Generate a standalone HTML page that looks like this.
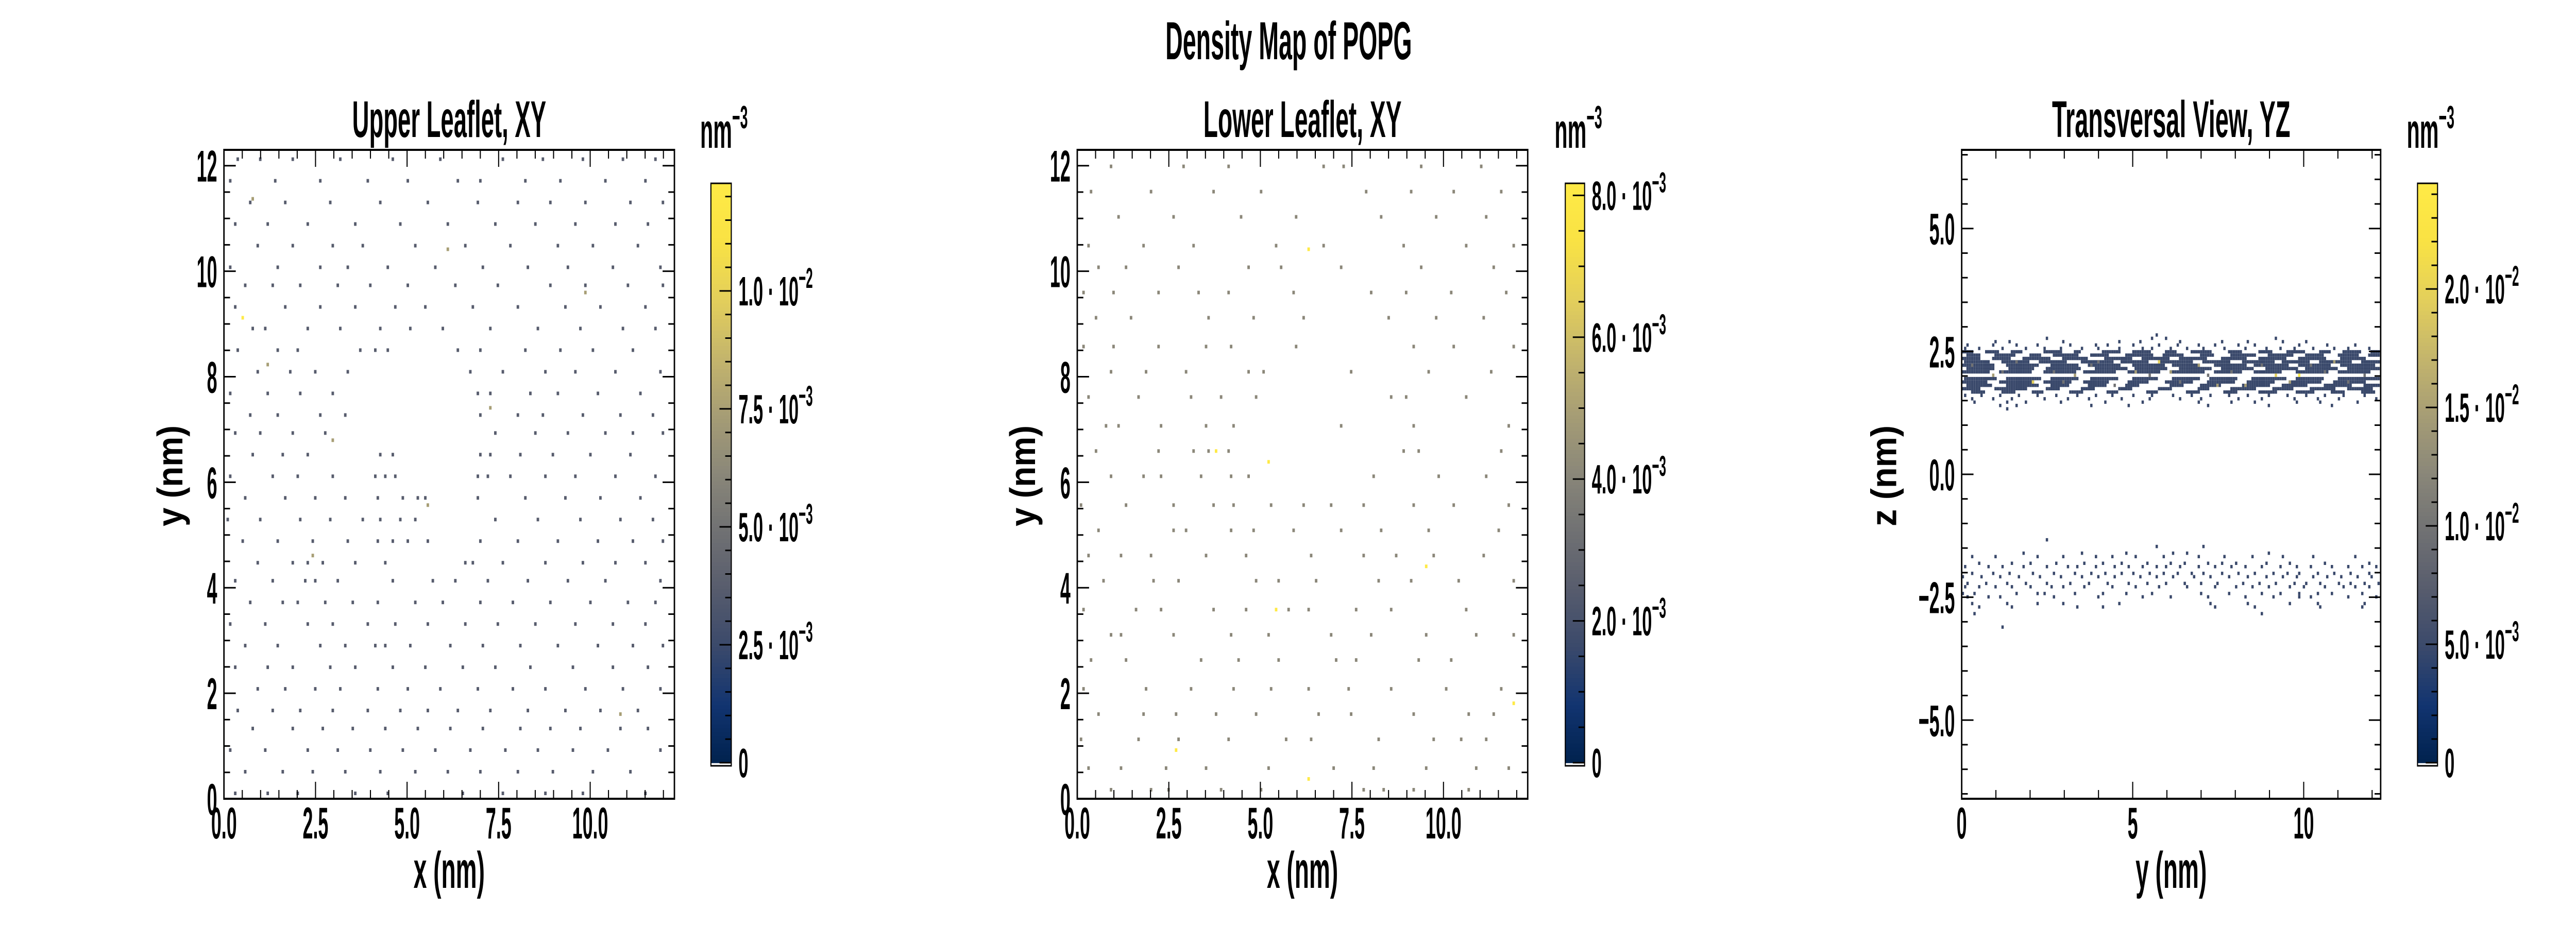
<!DOCTYPE html>
<html><head><meta charset="utf-8"><title>Density Map of POPG</title>
<style>html,body{margin:0;padding:0;background:#fff;width:100%;height:100%;overflow:hidden}svg{display:block;width:100vw;height:100vh}text{font-family:"Liberation Sans",sans-serif;font-weight:bold;fill:#000}</style>
</head><body>
<svg id="fig" xmlns="http://www.w3.org/2000/svg" viewBox="0 0 7200 1800" preserveAspectRatio="none"></svg>
<script>
// ---------------- data ----------------
const upperRowY = [12.1,11.7,11.3,10.9,10.5,10.1,9.7,9.3,8.9,8.5,8.1,7.7,7.3,6.9,6.5,6.1,5.7,5.3,4.9,4.5,4.1,3.7,3.3,2.9,2.5,2.1,1.7,1.3,0.9,0.5,0.1];
const upperRowX = [
[0.4,1.0,1.9,3.2,4.6,5.9,7.6,8.7,9.8,10.9,11.8],
[0.2,1.4,2.6,3.9,5.0,6.4,7.0,8.2,9.2,10.4,11.5],
[0.7,1.7,2.9,4.3,5.6,6.9,8.0,8.9,9.9,11.1,12.0],
[0.3,1.2,2.3,3.6,4.8,6.1,7.4,8.5,9.6,10.7,11.6],
[0.9,1.9,3.0,3.8,5.2,6.6,7.8,9.1,10.1,11.3],
[0.2,1.5,2.6,3.4,4.5,5.8,7.1,8.3,9.4,10.6,11.9],
[0.6,1.3,2.1,3.1,4.0,5.0,6.3,7.5,8.9,9.9,11.0,12.0],
[0.3,1.7,2.6,3.6,4.7,5.5,6.8,8.0,9.3,10.3,11.5],
[0.8,1.1,2.3,3.2,4.3,5.1,6.0,7.3,8.6,9.7,10.9,11.8],
[0.4,1.5,2.0,3.7,4.1,4.5,6.4,7.0,8.2,9.2,10.1,11.2],
[0.9,1.8,2.5,3.4,6.7,7.6,8.8,9.6,10.7,11.9],
[0.2,1.2,2.1,3.0,6.9,7.3,8.4,9.1,10.2,11.4],
[0.7,1.5,2.6,3.3,7.0,8.0,8.7,9.8,10.8,11.7],
[0.3,1.0,1.9,2.8,7.4,8.5,9.4,10.4,11.2,12.0],
[0.8,1.6,2.3,4.3,4.6,7.0,7.3,8.1,9.0,10.0,11.1],
[0.2,1.3,2.0,3.0,4.1,4.4,4.7,6.9,7.2,7.8,8.8,9.6,10.7,11.8],
[0.6,1.7,2.5,3.3,4.2,4.9,5.3,5.5,6.9,8.2,9.3,10.3,11.4],
[0.1,1.0,2.1,2.9,3.8,4.3,4.8,5.2,7.4,8.6,9.7,10.8,11.7],
[0.5,1.5,2.4,3.4,4.2,4.6,5.0,5.6,7.0,8.0,9.1,10.2,11.2,12.0],
[0.9,1.9,2.3,2.7,3.6,4.4,6.6,6.8,7.6,8.8,9.8,10.7,11.5],
[0.3,1.3,2.2,2.5,3.1,4.6,5.7,6.3,7.2,8.3,9.4,10.4,11.9],
[0.7,1.6,2.0,2.8,3.5,4.2,5.2,6.0,7.0,7.9,8.9,10.0,11.0,11.8],
[0.2,1.1,2.3,3.0,3.9,4.7,5.6,6.6,7.5,8.5,9.6,10.6,11.5],
[0.6,1.5,2.6,3.3,4.1,4.4,5.1,6.2,7.1,8.1,9.1,10.2,11.2,12.0],
[0.3,1.2,1.9,2.9,3.6,4.6,5.5,6.5,7.4,8.4,9.5,10.6,11.6],
[0.9,1.7,2.5,3.2,4.2,5.0,5.9,6.9,7.9,8.8,9.9,10.9,11.9],
[0.4,1.3,2.1,3.0,3.9,4.8,5.6,6.4,7.3,8.3,9.3,10.3,11.3],
[0.8,1.9,2.7,3.5,4.4,5.3,6.2,7.1,8.1,8.9,9.7,10.8,11.6],
[0.2,1.1,2.3,3.1,4.0,4.9,5.8,6.7,7.7,8.6,9.5,10.5,11.9],
[0.6,1.6,2.4,3.3,4.3,5.2,6.1,7.0,8.0,9.0,10.1,11.1],
[0.3,1.2,2.0,3.6,4.5,6.5,7.6,8.8,9.8,11.5]];
const upperUnit = 0.00368;
const upperHiX = [0.5,3.0,1.2,5.6,7.3,9.9,2.4,10.8,0.8,6.1];
const upperHiY = [9.1,6.8,8.2,5.6,7.4,9.6,4.6,1.6,11.4,10.4];
const upperHiV = [0.0123,0.0074,0.0074,0.0074,0.0074,0.0074,0.0074,0.0074,0.0074,0.0074];

const lowerRowY = [12.0,11.5,11.0,10.5,10.1,9.6,9.1,8.6,8.1,7.6,7.1,6.6,6.1,5.6,5.1,4.6,4.1,3.6,3.1,2.6,2.1,1.6,1.1,0.6,0.2];
const lowerRowX = [
[0.9,2.9,4.1,6.7,7.3,9.4,11.0],
[0.4,2.0,3.7,5.0,7.9,9.1,10.3,11.6],
[1.1,2.6,4.5,6.0,8.3,9.8,11.2],
[0.3,1.8,3.2,5.4,6.7,8.9,10.6,11.9],
[0.6,1.3,2.8,4.7,5.6,7.2,9.4,11.4],
[0.2,1.0,2.2,3.3,4.1,5.9,8.0,9.0,10.2,11.7],
[0.5,1.5,3.6,4.8,6.2,8.5,9.8,11.1],
[0.2,1.0,2.2,3.5,4.2,6.0,9.2,10.3,11.9],
[0.9,1.9,3.0,4.7,5.1,7.5,9.6,11.3],
[0.3,1.7,3.1,3.9,4.9,8.6,9.0,10.6],
[0.8,1.1,2.3,3.5,4.3,7.2,9.2,11.8],
[0.5,2.2,3.2,3.6,4.1,8.9,9.3,11.6],
[0.9,1.8,2.3,3.4,4.2,4.7,8.1,9.9,11.2],
[0.1,1.3,2.6,3.7,4.3,5.3,6.2,6.9,7.8,9.2,10.3,11.8],
[0.6,2.6,3.0,4.2,4.8,5.9,7.2,8.3,9.6,11.5],
[0.3,1.2,2.0,3.5,4.6,6.4,7.8,8.7,9.7,11.1],
[0.7,2.1,2.8,4.9,5.5,6.5,8.2,9.1,10.4,11.9],
[0.2,1.6,2.3,3.7,4.6,5.8,6.3,7.6,8.6,10.6],
[0.9,1.2,2.6,4.2,5.2,6.9,8.0,9.5,10.9,11.9],
[0.4,1.3,3.4,4.4,5.5,7.1,7.6,9.3,10.2],
[0.2,1.9,3.1,4.3,5.3,6.3,7.4,8.6,10.1,11.6],
[0.6,1.8,2.7,3.8,4.9,6.6,7.5,9.2,10.7,11.4],
[0.1,1.7,2.8,4.1,5.7,6.4,8.2,9.7,10.5,11.2],
[0.3,1.2,2.4,3.5,5.2,7.0,8.1,9.5,10.9,11.8],
[0.9,2.0,2.5,3.9,5.0,7.8,8.4,9.2,10.7]];
const lowerUnit = 0.0041;
const lowerHiX = [6.3,3.8,5.2,9.5,5.4,2.7,6.3,11.9];
const lowerHiY = [10.4,6.6,6.4,4.4,3.6,0.9,0.4,1.8];
const lowerHiV = [0.0082,0.0082,0.0082,0.0082,0.0082,0.0082,0.0082,0.0082];

const yzPointRowZ = [2.85,2.78,2.70,2.62,2.54,1.63,1.56,1.48,1.40,1.32,
  -1.35,-1.45,-1.60,-1.70,-1.80,-1.90,-2.00,-2.10,-2.20,-2.30,-2.40,-2.50,-2.60,-2.70,-2.85,-3.10];
const yzPointRowY = [
[5.7],
[2.5,5.6,6.0,9.2],
[1.0,1.4,3.0,4.6,5.2,6.4,7.6,8.4,9.4,10.1],
[0.2,0.9,1.6,2.2,3.2,3.9,4.3,5.0,5.8,6.3,6.9,7.4,8.1,8.6,9.9,10.7,11.5],
[0.1,0.5,1.2,1.9,2.4,2.9,3.5,4.0,4.6,5.3,5.6,6.1,6.6,7.1,7.7,8.3,8.9,9.3,9.7,10.3,10.9,11.3,11.9],
[0.1,0.6,1.1,1.7,2.2,2.8,3.4,3.9,4.4,5.0,5.6,6.2,6.7,7.3,7.8,8.4,9.0,9.5,10.1,10.6,11.2,11.8],
[0.3,0.9,1.5,2.4,3.1,3.7,4.7,5.5,6.4,7.0,8.1,8.8,9.7,10.4,11.0,12.1],
[0.4,1.3,1.9,2.9,4.2,5.3,6.9,7.9,8.6,9.8,10.5,11.6],
[1.1,1.6,3.8,4.9,7.2,9.0,10.8],
[1.3],
[2.5],
[5.7,7.1],
[1.8,3.5,4.8,6.2,6.6,9.0],
[0.3,1.0,2.2,3.0,3.9,4.4,5.1,5.9,6.9,7.7,8.5,9.4,10.3,11.5],
[0.5,1.5,2.0,2.8,3.6,4.1,4.7,5.4,6.1,6.5,7.2,7.6,8.0,8.9,9.6,10.6,11.9],
[0.1,0.8,1.2,1.8,2.5,3.1,3.4,3.9,4.5,4.9,5.3,5.7,6.0,6.4,6.9,7.4,7.9,8.3,8.8,9.3,9.8,10.2,10.8,11.3,11.7,12.1],
[0.3,0.9,1.4,2.1,2.7,3.3,3.8,4.2,4.7,5.0,5.5,5.9,6.3,6.7,7.1,7.6,8.1,8.6,9.1,9.5,9.9,10.4,10.9,11.4,11.9],
[0.0,0.6,1.1,1.7,2.3,2.9,3.5,4.0,4.5,5.2,5.7,6.2,6.8,7.3,7.8,8.4,8.9,9.4,9.8,10.3,10.7,11.1,11.6,12.0],
[0.2,0.7,1.3,1.9,2.5,3.2,3.7,4.3,4.9,5.4,6.0,6.5,7.0,7.5,8.2,8.7,9.2,9.7,10.1,10.5,11.0,11.4,11.8,12.2],
[0.1,0.5,1.0,1.5,2.0,2.6,3.0,3.6,4.4,5.1,5.8,6.6,7.4,8.0,8.5,9.0,9.6,10.0,10.6,11.2,11.5,11.9],
[0.0,0.4,1.6,2.2,2.4,3.3,4.1,4.8,5.6,7.0,7.8,8.8,9.3,9.9,10.4,10.8,11.7],
[0.2,0.8,1.1,2.7,4.0,5.3,6.1,7.2,8.3,9.1,9.9,10.2,11.3,12.1],
[0.3,1.3,2.2,3.0,4.6,7.3,8.4,9.6,10.4,11.8],
[0.5,1.5,3.4,4.1,7.4,8.6,10.5,11.7],
[0.4,8.8],
[1.2]];
const yzRunRowZ = [2.47,2.40,2.33,2.26,2.19,2.12,2.05,1.98,1.91,1.84,1.77,1.70];
const yzRunRowY = [
[0,0.3,0.7,1.1,1.5,1.8,2.4,2.9,3.3,3.5,4.1,4.6,5.0,5.5,6.0,6.3,6.7,7.3,7.8,8.2,8.7,9.1,9.5,10.0,10.5,10.8,11.2,11.7,12.0,12.25],
[0.2,0.6,1.0,1.6,2.0,2.3,2.7,3.4,3.8,4.3,4.8,5.6,5.9,6.5,7.0,7.4,7.9,8.6,9.0,9.7,10.1,10.6,11.0,11.6,11.9,12.2],
[0,0.5,0.9,1.4,1.8,2.6,3.0,3.7,4.2,5.0,5.3,6.1,6.4,7.2,7.6,8.3,8.7,9.5,9.9,10.7,11.1,11.8],
[0.1,0.8,1.2,2.0,2.3,3.1,3.5,4.4,4.7,5.5,5.8,6.8,7.1,7.9,8.2,9.1,9.4,10.2,10.5,11.4,11.7,12.25],
[0,0.9,1.3,2.2,2.6,3.4,3.7,4.6,5.0,5.9,6.2,7.0,7.4,8.3,8.6,9.6,9.9,10.8,11.1,12.1],
[0.2,1.0,1.4,2.1,2.5,3.5,3.9,4.8,5.1,6.0,6.4,7.3,7.6,8.5,8.9,9.8,10.1,11.0,11.3,12.25],
[0,0.8,1.1,2.0,2.4,3.3,3.6,4.5,4.9,5.8,6.1,7.1,7.4,8.2,8.6,9.4,9.8,10.7,11.0,11.9],
[0.1,1.0,1.3,2.3,2.6,3.4,3.8,4.6,5.0,5.7,6.2,7.0,7.3,8.1,8.5,9.5,9.8,10.6,11.0,12.2],
[0,0.7,1.1,2.1,2.4,3.2,3.6,4.3,4.9,5.5,6.0,6.8,7.2,8.0,8.4,9.2,9.6,10.5,10.9,11.8],
[0.2,0.9,1.3,2.2,2.6,3.1,3.7,4.2,4.8,5.2,6.1,6.5,7.0,7.6,8.2,9.0,9.4,10.1,10.6,11.4,11.8,12.25],
[0,0.5,1.0,1.9,2.5,2.9,3.5,3.9,4.6,5.0,5.8,6.2,6.9,7.2,7.9,8.6,9.1,9.7,10.2,10.9,11.3,12.0],
[0.3,0.7,1.2,1.6,2.1,2.4,3.2,3.6,4.3,4.6,5.4,5.7,6.6,7.0,7.7,8.1,8.7,9.2,9.8,10.3,10.8,11.2,11.7,12.1]];
const yzUnit = 0.0049;
const yzHiY = [0.3,0.9,1.6,2.1,2.7,3.3,3.8,4.5,5.1,5.5,5.8,6.4,6.9,7.2,7.9,8.3,8.8,9.2,9.6,9.9,10.6,10.9,11.3,11.8,4.0,6.1,1.2,3.0,7.5,10.2];
const yzHiZ = [2.2,2.0,2.3,1.9,2.1,2.0,2.2,1.8,2.1,2.0,2.3,1.9,2.2,2.0,2.1,1.8,2.2,2.0,1.9,2.0,2.1,2.3,1.9,2.0,2.3,2.1,2.1,1.9,1.8,2.2];
const yzHiV = [0.0098,0.0147,0.0098,0.0196,0.0098,0.0147,0.0098,0.0098,0.0147,0.0098,0.0196,0.0098,0.0147,0.0098,0.0098,0.0147,0.0098,0.0196,0.0147,0.0245,0.0098,0.0147,0.0098,0.0098,0.0098,0.0147,0.0098,0.0098,0.0147,0.0098];

const xyXTicks = [0,2.5,5,7.5,10];
const xyXTickLabels = ["0.0","2.5","5.0","7.5","10.0"];
const xyYTicks = [0,2,4,6,8,10,12];
const xyYTickLabels = ["0","2","4","6","8","10","12"];
const yzXTicks = [0,5,10];
const yzXTickLabels = ["0","5","10"];
const yzYTicks = [-5,-2.5,0,2.5,5];
const yzYTickLabels = ["\u22125.0","\u22122.5","0.0","2.5","5.0"];
const upperCbTicks = [0,0.0025,0.005,0.0075,0.01];
const upperCbMant = ["0","2.5","5.0","7.5","1.0"];
const upperCbExp = ["","\u22123","\u22123","\u22123","\u22122"];
const lowerCbTicks = [0,0.002,0.004,0.006,0.008];
const lowerCbMant = ["0","2.0","4.0","6.0","8.0"];
const lowerCbExp = ["","\u22123","\u22123","\u22123","\u22123"];
const yzCbTicks = [0,0.005,0.01,0.015,0.02];
const yzCbMant = ["0","5.0","1.0","1.5","2.0"];
const yzCbExp = ["","\u22123","\u22122","\u22122","\u22122"];

// ---------------- rendering ----------------
const NS = 'http://www.w3.org/2000/svg';
const svg = document.getElementById('fig');
const CIV = [[0,0,34,78],[0.1,18,52,112],[0.2,58,73,107],[0.3,87,92,109],[0.4,112,113,115],[0.5,138,135,121],[0.6,166,157,117],[0.7,196,181,108],[0.8,227,207,91],[0.9,249,226,68],[1,255,234,70]];
function cividis(t){
  t = Math.max(0, Math.min(1, t));
  for (let i = 1; i < CIV.length; i++) {
    if (t <= CIV[i][0]) {
      const a = CIV[i-1], b = CIV[i], f = (t - a[0]) / (b[0] - a[0]);
      return 'rgb(' + [1,2,3].map(k => Math.round(a[k] + (b[k]-a[k])*f)).join(',') + ')';
    }
  }
  return 'rgb(255,234,70)';
}
function mk(tag, attrs, parent){
  const e = document.createElementNS(NS, tag);
  for (const k in attrs) e.setAttribute(k, attrs[k]);
  (parent || svg).appendChild(e);
  return e;
}
function label(x, y, str, size, anchor, sx, name, parent){
  const t = mk('text', {transform:'translate('+x+','+y+') scale('+sx+',1)', 'font-size':size, 'text-anchor':anchor}, parent);
  t.textContent = str;
  
  
  return t;
}

const BIN = 0.0683;
function makePanel(cfg){
  const g = mk('g', {});
  
  
  const sx = v => cfg.x0 + (v - cfg.xr[0]) / (cfg.xr[1] - cfg.xr[0]) * (cfg.x1 - cfg.x0);
  const sy = v => cfg.y1 - (v - cfg.yr[0]) / (cfg.yr[1] - cfg.yr[0]) * (cfg.y1 - cfg.y0);
  const cells = mk('g', {}, g);
  
  
  function cell(x, y, v){
    const i = Math.floor(x / BIN), j = Math.floor(y / BIN);
    const xa = sx(i*BIN), xb = sx((i+1)*BIN), ya = sy((j+1)*BIN), yb = sy(j*BIN);
    if (xa >= cfg.x1 || xb <= cfg.x0) return;
    const r = mk('rect', {x:Math.max(xa,cfg.x0).toFixed(1), y:ya.toFixed(1), width:(Math.min(xb,cfg.x1)-Math.max(xa,cfg.x0)).toFixed(1), height:(yb-ya).toFixed(1), fill:cividis(v/cfg.vmax)}, cells);
    
    
  }
  cfg.draw(cell);
  const fr = mk('rect', {x:cfg.x0, y:cfg.y0, width:cfg.x1-cfg.x0, height:cfg.y1-cfg.y0, fill:'none', stroke:'#000', 'stroke-width':4}, g);
  
  
  const tk = mk('g', {stroke:'#000', 'stroke-width':3}, g);
  
  
  for (let v = cfg.xr[0]; v <= cfg.xr[1] + 1e-9; v = +(v + cfg.xMinor).toFixed(4)) {
    const isMaj = cfg.xTicks.some(m => Math.abs(m - v) < 1e-6);
    const L = isMaj ? 33 : 17, X = sx(v);
    mk('line', {x1:X, x2:X, y1:cfg.y1, y2:cfg.y1-L}, tk);
    mk('line', {x1:X, x2:X, y1:cfg.y0, y2:cfg.y0+L}, tk);
  }
  const ys = Math.ceil(cfg.yr[0] / cfg.yMinor) * cfg.yMinor;
  for (let v = ys; v <= cfg.yr[1] + 1e-9; v = +(v + cfg.yMinor).toFixed(4)) {
    const isMaj = cfg.yTicks.some(m => Math.abs(m - v) < 1e-6);
    const L = isMaj ? 33 : 17, Y = sy(v);
    mk('line', {x1:cfg.x0, x2:cfg.x0+L, y1:Y, y2:Y}, tk);
    mk('line', {x1:cfg.x1, x2:cfg.x1-L, y1:Y, y2:Y}, tk);
  }
  cfg.xTicks.forEach((v, i) => label(sx(v), 1628, cfg.xLabels[i], 86, 'middle', 0.6, 'x-tick-label', g));
  cfg.yTicks.forEach((v, i) => label(cfg.x0 - 19, sy(v) + 31, cfg.yLabels[i], 86, 'end', 0.6, 'y-tick-label', g));
  const cx = (cfg.x0 + cfg.x1) / 2;
  const tt = mk('text', {x:cx, y:266, 'font-size':100, 'text-anchor':'middle', textLength:cfg.titleW, lengthAdjust:'spacingAndGlyphs'}, g);
  tt.textContent = cfg.title;
  
  
  const xl = mk('text', {x:cx, y:1724, 'font-size':100, 'text-anchor':'middle', textLength:199, lengthAdjust:'spacingAndGlyphs'}, g);
  xl.textContent = cfg.xTitle;
  
  
  const yl = mk('text', {x:0, y:0, 'font-size':100, 'text-anchor':'middle', textLength:196, lengthAdjust:'spacingAndGlyphs', transform:'translate('+cfg.yTitleX+',924) rotate(-90)'}, g);
  yl.textContent = cfg.yTitle;
  
  
  const cb = mk('g', {}, g);
  
  
  const cTop = 356, cZero = 1481, cBot = 1487;
  const cy = v => cZero - v / cfg.vmax * (cZero - cTop);
  const N = 150;
  for (let k = 0; k < N; k++) {
    const v0 = cfg.vmax * k / N, v1 = cfg.vmax * (k + 1) / N;
    mk('rect', {x:cfg.cbx, y:cy(v1).toFixed(1), width:cfg.cbw, height:(cy(v0)-cy(v1)+0.8).toFixed(1), fill:cividis((k+0.5)/N)}, cb);
  }
  const cbf = mk('rect', {x:cfg.cbx, y:cTop, width:cfg.cbw, height:cBot-cTop, fill:'none', stroke:'#000', 'stroke-width':3}, cb);
  
  
  const step = cfg.cbTicks[1] - cfg.cbTicks[0];
  for (let v = 0; v <= cfg.vmax + 1e-12; v += step / cfg.cbSub) {
    const isMaj = cfg.cbTicks.some(m => Math.abs(m - v) < step * 1e-3);
    const L = isMaj ? 33 : 17, Y = cy(v);
    mk('line', {x1:cfg.cbx+cfg.cbw, x2:cfg.cbx+cfg.cbw-L, y1:Y, y2:Y, stroke:'#000', 'stroke-width':3}, cb);
  }
  cfg.cbTicks.forEach((v, i) => {
    const t = label(cfg.cbx + cfg.cbw + 20, cy(v) + 28, '', 80, 'start', 0.62, 'colorbar-tick-label', cb);
    const m = mk('tspan', {}, t); m.textContent = cfg.cbMant[i] + (cfg.cbExp[i] ? ' \u00b7 10' : '');
    if (cfg.cbExp[i]) { const e = mk('tspan', {dy:-34, 'font-size':56}, t); e.textContent = cfg.cbExp[i]; }
  });
  const u = label(cfg.cbx - 30, 287, '', 96, 'start', 0.62, 'colorbar-unit-label', cb);
  const um = mk('tspan', {}, u); um.textContent = 'nm';
  const ue = mk('tspan', {dy:-38, 'font-size':62}, u); ue.textContent = '\u22123';
}

makePanel({name:'upper-leaflet-panel', x0:626, x1:1885, y0:291, y1:1551, xr:[0,12.3], yr:[0,12.3], vmax:0.01228,
  xTicks:xyXTicks, xLabels:xyXTickLabels, xMinor:0.5, yTicks:xyYTicks, yLabels:xyYTickLabels, yMinor:0.5,
  title:'Upper Leaflet, XY', titleW:542, xTitle:'x (nm)', yTitle:'y (nm)', yTitleX:510,
  cbx:1987, cbw:57, cbTicks:upperCbTicks, cbMant:upperCbMant, cbExp:upperCbExp, cbSub:5,
  draw: cell => {
    upperRowY.forEach((y, i) => upperRowX[i].forEach(x => cell(x, y, upperUnit)));
    upperHiX.forEach((x, i) => cell(x, upperHiY[i], upperHiV[i]));
  }});
makePanel({name:'lower-leaflet-panel', x0:3011, x1:4270, y0:291, y1:1551, xr:[0,12.3], yr:[0,12.3], vmax:0.00817,
  xTicks:xyXTicks, xLabels:xyXTickLabels, xMinor:0.5, yTicks:xyYTicks, yLabels:xyYTickLabels, yMinor:0.5,
  title:'Lower Leaflet, XY', titleW:554, xTitle:'x (nm)', yTitle:'y (nm)', yTitleX:2893,
  cbx:4375, cbw:54, cbTicks:lowerCbTicks, cbMant:lowerCbMant, cbExp:lowerCbExp, cbSub:4,
  draw: cell => {
    lowerRowY.forEach((y, i) => lowerRowX[i].forEach(x => cell(x, y, lowerUnit)));
    lowerHiX.forEach((x, i) => cell(x, lowerHiY[i], lowerHiV[i]));
  }});
makePanel({name:'transversal-view-panel', x0:5483, x1:6654, y0:291, y1:1551, xr:[0,12.25], yr:[-6.6,6.6], vmax:0.02446,
  xTicks:yzXTicks, xLabels:yzXTickLabels, xMinor:1, yTicks:yzYTicks, yLabels:yzYTickLabels, yMinor:0.5,
  title:'Transversal View, YZ', titleW:666, xTitle:'y (nm)', yTitle:'z (nm)', yTitleX:5300,
  cbx:6757, cbw:56, cbTicks:yzCbTicks, cbMant:yzCbMant, cbExp:yzCbExp, cbSub:5,
  draw: cell => {
    yzPointRowZ.forEach((z, i) => yzPointRowY[i].forEach(y => cell(y, z, yzUnit)));
    yzRunRowZ.forEach((z, i) => {
      const r = yzRunRowY[i];
      for (let k = 0; k + 1 < r.length; k += 2) {
        for (let y = r[k]; y <= r[k+1] + 1e-9; y += BIN) cell(y, z, yzUnit);
      }
    });
    yzHiY.forEach((y, i) => cell(y, yzHiZ[i], yzHiV[i]));
  }});

const sup = mk('text', {x:3602, y:115, 'font-size':104, 'text-anchor':'middle', textLength:689, lengthAdjust:'spacingAndGlyphs'});
sup.textContent = 'Density Map of POPG';


</script>
</body></html>
